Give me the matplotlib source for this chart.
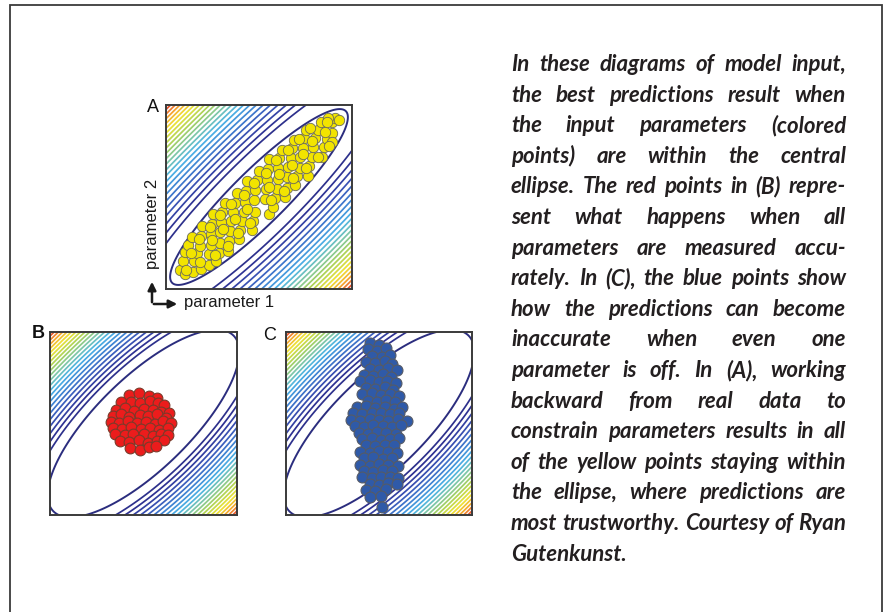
import numpy as np
import matplotlib.pyplot as plt
from matplotlib.colors import LinearSegmentedColormap
from matplotlib.patches import FancyArrowPatch, Rectangle

##### Data (axes run -1..1) #####
# Panel A - yellow points, constrained by real data
a_x = [-0.85, -0.80, -0.82, -0.71, -0.80, -0.70, -0.62, -0.76, -0.67, -0.54,
       -0.72, -0.63, -0.54, -0.46, -0.62, -0.52, -0.43, -0.61, -0.52, -0.42,
       -0.33, -0.51, -0.42, -0.32, -0.50, -0.41, -0.31, -0.22, -0.40, -0.30,
       -0.20, -0.37, -0.28, -0.18, -0.08, -0.26, -0.16, -0.06, -0.24, -0.15,
       -0.04, -0.14, -0.05, 0.11, -0.13, -0.04, 0.06, 0.15, -0.02, 0.07,
       0.17, 0.00, 0.09, 0.19, 0.28, 0.10, 0.20, 0.30, 0.11, 0.20,
       0.30, 0.39, 0.22, 0.31, 0.41, 0.25, 0.34, 0.44, 0.53, 0.35,
       0.44, 0.54, 0.38, 0.47, 0.57, 0.48, 0.58, 0.68, 0.51, 0.60,
       0.70, 0.63, 0.73, 0.67, 0.78, 0.79, 0.78, 0.82, 0.86, 0.74,
       -0.79, -0.73, -0.63, -0.64, -0.47, -0.51, -0.53, -0.33, -0.39, -0.42,
       -0.23, -0.26, -0.30, -0.10, -0.13, -0.16, -0.05, 0.13, 0.11, 0.08,
       0.27, 0.21, 0.18, 0.37, 0.35, 0.31, 0.51, 0.47, 0.43, 0.63,
       0.57, 0.55, 0.75, 0.71, 0.73]
a_y = [-0.79, -0.84, -0.70, -0.81, -0.60, -0.70, -0.78, -0.52, -0.61, -0.74,
       -0.44, -0.53, -0.62, -0.70, -0.42, -0.52, -0.61, -0.31, -0.40, -0.50,
       -0.59, -0.29, -0.38, -0.48, -0.18, -0.27, -0.37, -0.46, -0.16, -0.26,
       -0.36, -0.07, -0.16, -0.26, -0.36, -0.06, -0.16, -0.26, 0.04, -0.05,
       -0.16, 0.06, -0.03, -0.19, 0.17, 0.08, -0.02, -0.11, 0.18, 0.09,
       -0.01, 0.28, 0.19, 0.09, 0.00, 0.30, 0.20, 0.10, 0.41, 0.32,
       0.22, 0.13, 0.42, 0.33, 0.23, 0.51, 0.42, 0.32, 0.23, 0.53,
       0.44, 0.34, 0.62, 0.53, 0.43, 0.64, 0.54, 0.44, 0.73, 0.64,
       0.54, 0.73, 0.63, 0.81, 0.70, 0.81, 0.60, 0.86, 0.84, 0.86,
       -0.79, -0.61, -0.71, -0.46, -0.63, -0.47, -0.33, -0.53, -0.35, -0.20,
       -0.39, -0.24, -0.08, -0.28, -0.13, 0.02, 0.15, -0.03, 0.11, 0.26,
       0.07, 0.25, 0.40, 0.21, 0.35, 0.51, 0.31, 0.47, 0.63, 0.43,
       0.61, 0.75, 0.55, 0.71, 0.81]

# Panel B - red points, all parameters measured accurately
b_x = [-0.15, -0.05, 0.06, 0.14,
       -0.24, -0.13, -0.04, 0.07, 0.16, 0.22,
       -0.29, -0.20, -0.10, 0.01, 0.10, 0.19, 0.27,
       -0.33, -0.24, -0.15, -0.04, 0.05, 0.14, 0.24,
       -0.35, -0.26, -0.17, -0.07, 0.03, 0.12, 0.21, 0.29,
       -0.33, -0.23, -0.13, -0.03, 0.07, 0.17, 0.26,
       -0.30, -0.20, -0.11, 0.00, 0.10, 0.19, 0.26,
       -0.25, -0.15, -0.05, 0.05, 0.14, 0.22,
       -0.14, -0.04, 0.06, 0.13]
b_y = [0.31, 0.33, 0.30, 0.28,
       0.23, 0.24, 0.22, 0.25, 0.22, 0.20,
       0.15, 0.17, 0.14, 0.16, 0.15, 0.13, 0.12,
       0.08, 0.10, 0.07, 0.09, 0.08, 0.10, 0.06,
       0.02, 0.01, 0.03, 0.01, 0.02, 0.00, 0.03, 0.01,
       -0.05, -0.06, -0.04, -0.06, -0.05, -0.07, -0.05,
       -0.12, -0.13, -0.11, -0.12, -0.14, -0.11, -0.13,
       -0.19, -0.20, -0.18, -0.21, -0.19, -0.18,
       -0.27, -0.29, -0.26, -0.25]

# Panel C - blue points, one parameter off
c_x = [-0.10, 0.00,
       -0.12, -0.02, 0.07,
       -0.08, 0.03, 0.12,
       -0.14, -0.04, 0.06, 0.14,
       -0.10, 0.00, 0.10, 0.19,
       -0.16, -0.06, 0.04, 0.13,
       -0.20, -0.10, 0.00, 0.09, 0.18,
       -0.14, -0.04, 0.06, 0.15,
       -0.18, -0.08, 0.02, 0.12, 0.22,
       -0.12, -0.02, 0.08, 0.17,
       -0.24, -0.14, -0.04, 0.06, 0.16, 0.25,
       -0.28, -0.18, -0.08, 0.02, 0.12, 0.22,
       -0.30, -0.20, -0.10, 0.00, 0.10, 0.20, 0.30,
       -0.26, -0.16, -0.06, 0.04, 0.14, 0.24,
       -0.22, -0.12, -0.02, 0.08, 0.18,
       -0.18, -0.08, 0.02, 0.12, 0.22,
       -0.14, -0.04, 0.06, 0.16,
       -0.20, -0.10, 0.00, 0.10, 0.19,
       -0.16, -0.06, 0.04, 0.14,
       -0.20, -0.10, 0.00, 0.10, 0.20,
       -0.16, -0.06, 0.04, 0.14,
       -0.18, -0.08, 0.02, 0.12, 0.20,
       -0.10, 0.00, 0.10, 0.19,
       -0.14, -0.04, 0.08,
       -0.10, 0.02,
       0.03]
c_y = [0.88, 0.86,
       0.81, 0.79, 0.82,
       0.74, 0.73, 0.75,
       0.67, 0.66, 0.68, 0.65,
       0.60, 0.59, 0.61, 0.58,
       0.53, 0.52, 0.54, 0.51,
       0.46, 0.47, 0.45, 0.46, 0.44,
       0.39, 0.38, 0.40, 0.37,
       0.32, 0.33, 0.31, 0.32, 0.30,
       0.25, 0.24, 0.26, 0.24,
       0.18, 0.19, 0.17, 0.18, 0.16, 0.18,
       0.11, 0.10, 0.12, 0.11, 0.10, 0.12,
       0.04, 0.03, 0.05, 0.04, 0.03, 0.05, 0.03,
       -0.03, -0.04, -0.02, -0.03, -0.04, -0.02,
       -0.10, -0.11, -0.09, -0.10, -0.11,
       -0.17, -0.16, -0.18, -0.17, -0.16,
       -0.24, -0.25, -0.23, -0.24,
       -0.31, -0.32, -0.30, -0.31, -0.32,
       -0.38, -0.37, -0.39, -0.38,
       -0.45, -0.46, -0.44, -0.45, -0.46,
       -0.52, -0.53, -0.51, -0.52,
       -0.59, -0.60, -0.58, -0.59, -0.60,
       -0.66, -0.67, -0.65, -0.66,
       -0.73, -0.74, -0.72,
       -0.80, -0.79,
       -0.91]

panel_labels = ['A', 'B', 'C']
axis_labels = ['parameter 1', 'parameter 2']

caption_lines = [
    "In these diagrams of model input,",
    "the best predictions result when",
    "the input parameters (colored",
    "points) are within the central",
    "ellipse. The red points in (B) repre-",
    "sent what happens when all",
    "parameters are measured accu-",
    "rately. In (C), the blue points show",
    "how the predictions can become",
    "inaccurate when even one",
    "parameter is off. In (A), working",
    "backward from real data to",
    "constrain parameters results in all",
    "of the yellow points staying within",
    "the ellipse, where predictions are",
    "most trustworthy. Courtesy of Ryan",
    "Gutenkunst.",
]

W, H = 885, 612
NAVY = '#2b2d7e'

cost_cmap = LinearSegmentedColormap.from_list('cost', [
    (0.00, '#2b2d7e'), (0.16, '#2e3192'), (0.28, '#3a56b8'),
    (0.40, '#3f86d4'), (0.50, '#4cb3e6'), (0.60, '#7cc6a8'),
    (0.70, '#a8d158'), (0.82, '#eee334'), (0.91, '#f5a22e'),
    (1.00, '#e2302a')])


##### Helper Functions #####
def rect(left, top, width, height):
    # pixel box (from top-left) -> figure fraction
    return [left / W, 1 - (top + height) / H, width / W, height / H]

def px(x, y):
    return (x / W, 1 - y / H)

def drawCost(ax, major, minor, first, n_lines, power):
    g = np.linspace(-1, 1, 700)
    X, Y = np.meshgrid(g, g)
    u = (X + Y) / np.sqrt(2)
    v = (Y - X) / np.sqrt(2)
    d = np.sqrt((u / major) ** 2 + (v / minor) ** 2)
    dmax = d.max()
    levels = np.linspace(first ** power, dmax ** power, n_lines + 1)[:-1] ** (1 / power)
    frac = (levels - 1) / (dmax - 1)
    colors = [cost_cmap(f) for f in frac]
    ax.contour(X, Y, d, levels=levels, colors=colors, linewidths=1.25)
    ax.contour(X, Y, d, levels=[1.0], colors=[NAVY], linewidths=1.4)

def setupPanel(ax):
    ax.set_xlim(-1, 1)
    ax.set_ylim(-1, 1)
    ax.set_xticks([])
    ax.set_yticks([])
    for s in ax.spines.values():
        s.set_color('#3a3a3a')
        s.set_linewidth(1.4)

def drawCaption(fig):
    fig.canvas.draw()
    renderer = fig.canvas.get_renderer()
    left, right = 511, 846
    font = dict(family='Lato', weight='bold', style='italic', color='#231f20')
    # size the font so the tightest reference line fills the column
    probe = fig.text(0, 0, caption_lines[15], fontsize=12, **font)
    size = 12 * (right - left) / probe.get_window_extent(renderer).width
    probe.remove()
    for k, line in enumerate(caption_lines):
        words = line.split()
        base = 71 + k * 30.6
        texts = [fig.text(0, 0, w, va='baseline', ha='left', fontsize=size, **font)
                 for w in words]
        widths = [t.get_window_extent(renderer).width for t in texts]
        if k == len(caption_lines) - 1 or len(words) == 1:
            gap = 0.25 * size * 100 / 72
        else:
            gap = (right - left - sum(widths)) / (len(words) - 1)
        x = left
        for t, w in zip(texts, widths):
            t.set_position(px(x, base))
            x += w + gap


##### Figure #####
fig = plt.figure(figsize=(W / 100, H / 100), dpi=100)

ax_a = fig.add_axes(rect(166, 105, 186, 184))
ax_b = fig.add_axes(rect(50, 332, 187, 183))
ax_c = fig.add_axes(rect(286, 332, 186, 183))

drawCost(ax_a, 1.32, 0.29, 1.45, 23, 1.5)
drawCost(ax_b, 1.36, 0.50, 1.2, 22, 1.5)
drawCost(ax_c, 1.36, 0.50, 1.2, 22, 1.5)

ax_a.scatter(a_x, a_y, s=56, c='#f2e400', edgecolors='#6b6b5a', linewidths=0.6, zorder=3)
ax_b.scatter(b_x, b_y, s=60, c='#ec1c1c', edgecolors='#7a3a2a', linewidths=0.8, zorder=3)
ax_c.scatter(c_x, c_y, s=62, c='#2f5aa8', edgecolors='#555a66', linewidths=0.8, zorder=3)

for ax in [ax_a, ax_b, ax_c]:
    setupPanel(ax)

## panel letters
label_font = dict(family='Liberation Sans', fontsize=13, color='#111111', va='baseline')
fig.text(*px(147, 112), panel_labels[0], **label_font)
fig.text(*px(32, 338), panel_labels[1], weight='bold', **label_font)
fig.text(*px(263, 340), panel_labels[2], **label_font)

## parameter axes arrows
fig.add_artist(FancyArrowPatch(px(152, 305), px(152, 279), transform=fig.transFigure,
                               arrowstyle='-|>', mutation_scale=12, lw=1.8, color='#1a1a1a'))
fig.add_artist(FancyArrowPatch(px(151, 304), px(180, 304), transform=fig.transFigure,
                               arrowstyle='-|>', mutation_scale=12, lw=1.8, color='#1a1a1a'))
fig.text(*px(184, 302), axis_labels[0], family='Liberation Sans', fontsize=12,
         color='#1a1a1a', ha='left', va='center')
fig.text(*px(153, 224), axis_labels[1], family='Liberation Sans', fontsize=12,
         color='#1a1a1a', ha='center', va='center', rotation=90)

## outer frame, bottom edge runs off the picture
fig.add_artist(Rectangle((10 / W, -0.1), (882 - 10) / W, 1.1 - 5 / H, fill=False,
                         lw=1.3, ec='#3a3a3a', transform=fig.transFigure))

drawCaption(fig)

fig.savefig('out.png', dpi=100)
